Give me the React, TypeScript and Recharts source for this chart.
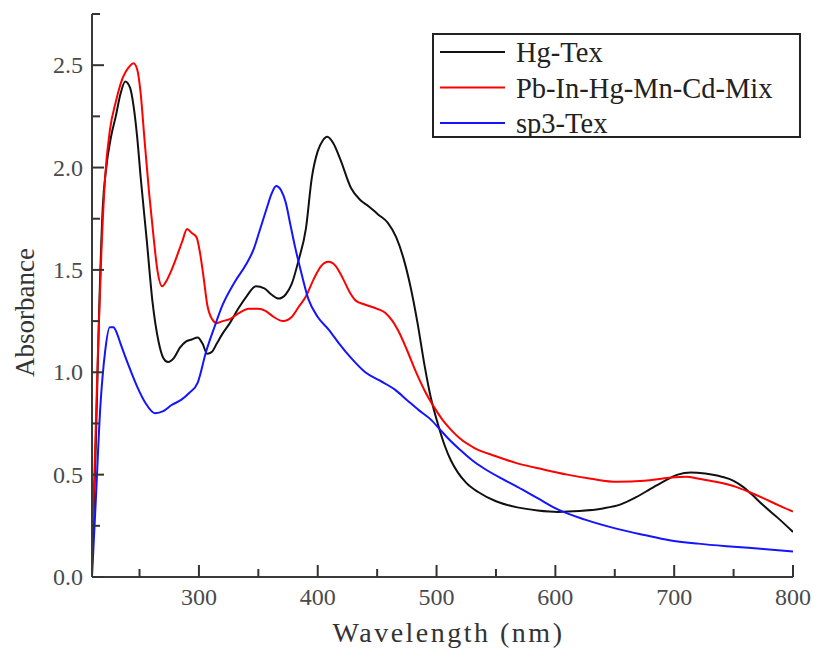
import React from "react";
import { LineChart, Line, XAxis, YAxis, Legend, Label } from "recharts";

// wavelength (nm) / absorbance pairs
const hgTexWl = [210, 213, 216, 219, 222, 226, 230, 234, 238, 242, 245, 248, 251, 256, 261, 266, 270, 274, 279, 284, 289, 294, 299, 303, 307, 311, 315, 320, 326, 333, 340, 348, 355, 361, 367, 373, 378, 384, 390, 395, 400, 404, 408, 413, 419, 428, 436, 443, 451, 459, 466, 472, 478, 484, 490, 495, 501, 507, 512, 518, 525, 535, 550, 568, 585, 602, 620, 640, 655, 668, 680, 692, 703, 714, 726, 740, 750, 758, 765, 775, 787, 800];
const hgTexAbs = [0.05, 0.6, 1.3, 1.8, 2.0, 2.15, 2.25, 2.36, 2.42, 2.39, 2.3, 2.15, 1.95, 1.65, 1.34, 1.15, 1.07, 1.05, 1.07, 1.12, 1.15, 1.16, 1.17, 1.14, 1.09, 1.1, 1.14, 1.19, 1.24, 1.31, 1.37, 1.42, 1.41, 1.38, 1.36, 1.38, 1.43, 1.55, 1.7, 1.95, 2.08, 2.13, 2.15, 2.12, 2.04, 1.9, 1.84, 1.81, 1.77, 1.73, 1.66, 1.56, 1.42, 1.24, 1.03, 0.88, 0.75, 0.64, 0.57, 0.51, 0.46, 0.415, 0.37, 0.34, 0.325, 0.318, 0.322, 0.335, 0.355, 0.39, 0.43, 0.47, 0.5, 0.51, 0.505, 0.49, 0.47, 0.44, 0.405, 0.35, 0.29, 0.22];

const mixWl = [210, 212, 215, 218, 221, 225, 230, 236, 241, 245, 248, 251, 254, 258, 262, 265, 269, 273, 277, 281, 286, 290, 294, 298, 301, 304, 307, 311, 315, 320, 326, 334, 342, 350, 356, 363, 371, 378, 384, 390, 397, 403, 409, 415, 421, 427, 432, 440, 450, 457, 463, 468, 475, 482, 490, 499, 506, 512, 520, 532, 550, 568, 590, 610, 630, 652, 675, 696, 710, 721, 735, 752, 763, 775, 788, 800];
const mixAbs = [0.15, 0.5, 1.1, 1.6, 1.95, 2.18, 2.32, 2.44, 2.49, 2.51, 2.48, 2.36, 2.15, 1.88, 1.65, 1.5, 1.42, 1.45, 1.5, 1.56, 1.64, 1.7, 1.68, 1.66, 1.58, 1.46, 1.33, 1.26, 1.24, 1.25, 1.26, 1.29, 1.31, 1.31, 1.3, 1.27, 1.25, 1.27, 1.32, 1.37, 1.46, 1.52, 1.54, 1.52, 1.46, 1.39, 1.35, 1.33, 1.31, 1.29, 1.25, 1.2, 1.11, 1.01, 0.91, 0.82, 0.76, 0.72, 0.675, 0.63, 0.59, 0.555, 0.525, 0.5, 0.48, 0.465, 0.47, 0.485, 0.49, 0.48, 0.465, 0.44, 0.415, 0.385, 0.35, 0.32];

const sp3Wl = [210, 213, 217, 221, 225, 228, 231, 234, 241, 248, 255, 263, 270, 277, 285, 292, 299, 306, 313, 320, 330, 340, 346, 351, 357, 361, 365, 369, 373, 377, 381, 386, 392, 400, 409, 418, 428, 440, 452, 465, 475, 485, 495, 503, 510, 520, 530, 540, 555, 568, 585, 602, 625, 652, 675, 696, 720, 750, 775, 800];
const sp3Abs = [0.0, 0.35, 0.83, 1.1, 1.22, 1.22, 1.19, 1.14, 1.03, 0.93, 0.85, 0.8, 0.81, 0.84, 0.865, 0.9, 0.95, 1.1, 1.22, 1.33, 1.44, 1.53, 1.6, 1.69, 1.8, 1.87, 1.91, 1.89, 1.83, 1.72, 1.61, 1.49, 1.36, 1.27, 1.21, 1.14, 1.07, 1.0, 0.96, 0.915, 0.865, 0.815, 0.77, 0.72, 0.675, 0.62, 0.57, 0.53, 0.48, 0.44, 0.385, 0.33, 0.28, 0.235, 0.205, 0.18, 0.163, 0.148, 0.137, 0.125];

const xTicks = [250, 300, 350, 400, 450, 500, 550, 600, 650, 700, 750, 800];
const yTicks = [0, 0.25, 0.5, 0.75, 1, 1.25, 1.5, 1.75, 2, 2.25, 2.5, 2.75];

const seriesNames = ["Hg-Tex", "Pb-In-Hg-Mn-Cd-Mix", "sp3-Tex"];
const seriesColors = ["#111111", "#ff0000", "#1414ff"];

const SERIF = '"Liberation Serif", "Times New Roman", serif';

const toPoints = (wl: number[], abs: number[]) => wl.map((w, i) => ({ wl: w, abs: abs[i] }));

const hgTex = toPoints(hgTexWl, hgTexAbs);
const mix = toPoints(mixWl, mixAbs);
const sp3 = toPoints(sp3Wl, sp3Abs);

function YTick(props: any) {
    const { x, y, payload } = props;
    const v = payload.value;
    const major = Math.abs(v * 2 - Math.round(v * 2)) < 1e-6;
    return (
        <g>
            <line x1={x} x2={x + (major ? 12 : 8)} y1={y} y2={y} stroke="#333" strokeWidth={2} />
            {major && (
                <text x={x - 9} y={y + 8} textAnchor="end" fontFamily={SERIF} fontSize={24} fill="#4a4a4a">
                    {v.toFixed(1)}
                </text>
            )}
        </g>
    );
}

function XTick(props: any) {
    const { x, y, payload } = props;
    const v = payload.value;
    const major = v % 100 === 0;
    return (
        <g>
            <line x1={x} x2={x} y1={y} y2={y - (major ? 12 : 8)} stroke="#333" strokeWidth={2} />
            {major && (
                <text x={x} y={y + 28} textAnchor="middle" fontFamily={SERIF} fontSize={24} fill="#4a4a4a">
                    {v}
                </text>
            )}
        </g>
    );
}

function LegendBox() {
    return (
        <svg width={369} height={105} style={{ display: "block" }}>
            <rect x={1} y={1} width={367} height={103} fill="#fff" stroke="#222" strokeWidth={2} />
            {seriesNames.map((name, i) => {
                const cy = 19 + i * 35.5;
                return (
                    <g key={name}>
                        <line x1={8} x2={73} y1={cy} y2={cy} stroke={seriesColors[i]} strokeWidth={2} />
                        <text x={84} y={cy + 10} fontFamily={SERIF} fontSize={28.5} fill="#222">
                            {name}
                        </text>
                    </g>
                );
            })}
        </svg>
    );
}

export default function App() {
    return (
        <div style={{ position: "absolute", left: 0, top: 0, width: 814, height: 651, background: "#fff" }}>
            <LineChart width={814} height={651} margin={{ top: 14, right: 21, bottom: 44, left: 0 }}>
                <XAxis
                    type="number"
                    dataKey="wl"
                    domain={[210, 800]}
                    ticks={xTicks}
                    interval={0}
                    allowDataOverflow
                    height={30}
                    tickSize={0}
                    tickMargin={0}
                    tickLine={false}
                    tick={<XTick />}
                    axisLine={{ stroke: "#3a3a3a", strokeWidth: 2 }}
                >
                    <Label
                        content={(p: any) => {
                            const vb = p.viewBox;
                            return (
                                <text x={vb.x + vb.width / 2 + 6} y={642} textAnchor="middle" fontFamily={SERIF} fontSize={28} letterSpacing={2.5} fill="#333">
                                    Wavelength (nm)
                                </text>
                            );
                        }}
                    />
                </XAxis>
                <YAxis
                    type="number"
                    domain={[0, 2.75]}
                    ticks={yTicks}
                    interval={0}
                    allowDataOverflow
                    width={92}
                    tickSize={0}
                    tickMargin={0}
                    tickLine={false}
                    tick={<YTick />}
                    axisLine={{ stroke: "#3a3a3a", strokeWidth: 2 }}
                >
                    <Label
                        content={(p: any) => {
                            const vb = p.viewBox;
                            const cx = 34;
                            const cy = vb.y + vb.height / 2 + 17;
                            return (
                                <text x={cx} y={cy} transform={`rotate(-90 ${cx} ${cy})`} textAnchor="middle" fontFamily={SERIF} fontSize={27} fill="#333">
                                    Absorbance
                                </text>
                            );
                        }}
                    />
                </YAxis>
                <Legend
                    layout="vertical"
                    align="center"
                    verticalAlign="middle"
                    wrapperStyle={{ left: 432, top: 33, width: 369, height: 105 }}
                    content={() => <LegendBox />}
                />
                <Line data={hgTex} dataKey="abs" name={seriesNames[0]} type="monotone" stroke={seriesColors[0]} strokeWidth={2} dot={false} isAnimationActive={false} />
                <Line data={mix} dataKey="abs" name={seriesNames[1]} type="monotone" stroke={seriesColors[1]} strokeWidth={2} dot={false} isAnimationActive={false} />
                <Line data={sp3} dataKey="abs" name={seriesNames[2]} type="monotone" stroke={seriesColors[2]} strokeWidth={2} dot={false} isAnimationActive={false} />
            </LineChart>
        </div>
    );
}
